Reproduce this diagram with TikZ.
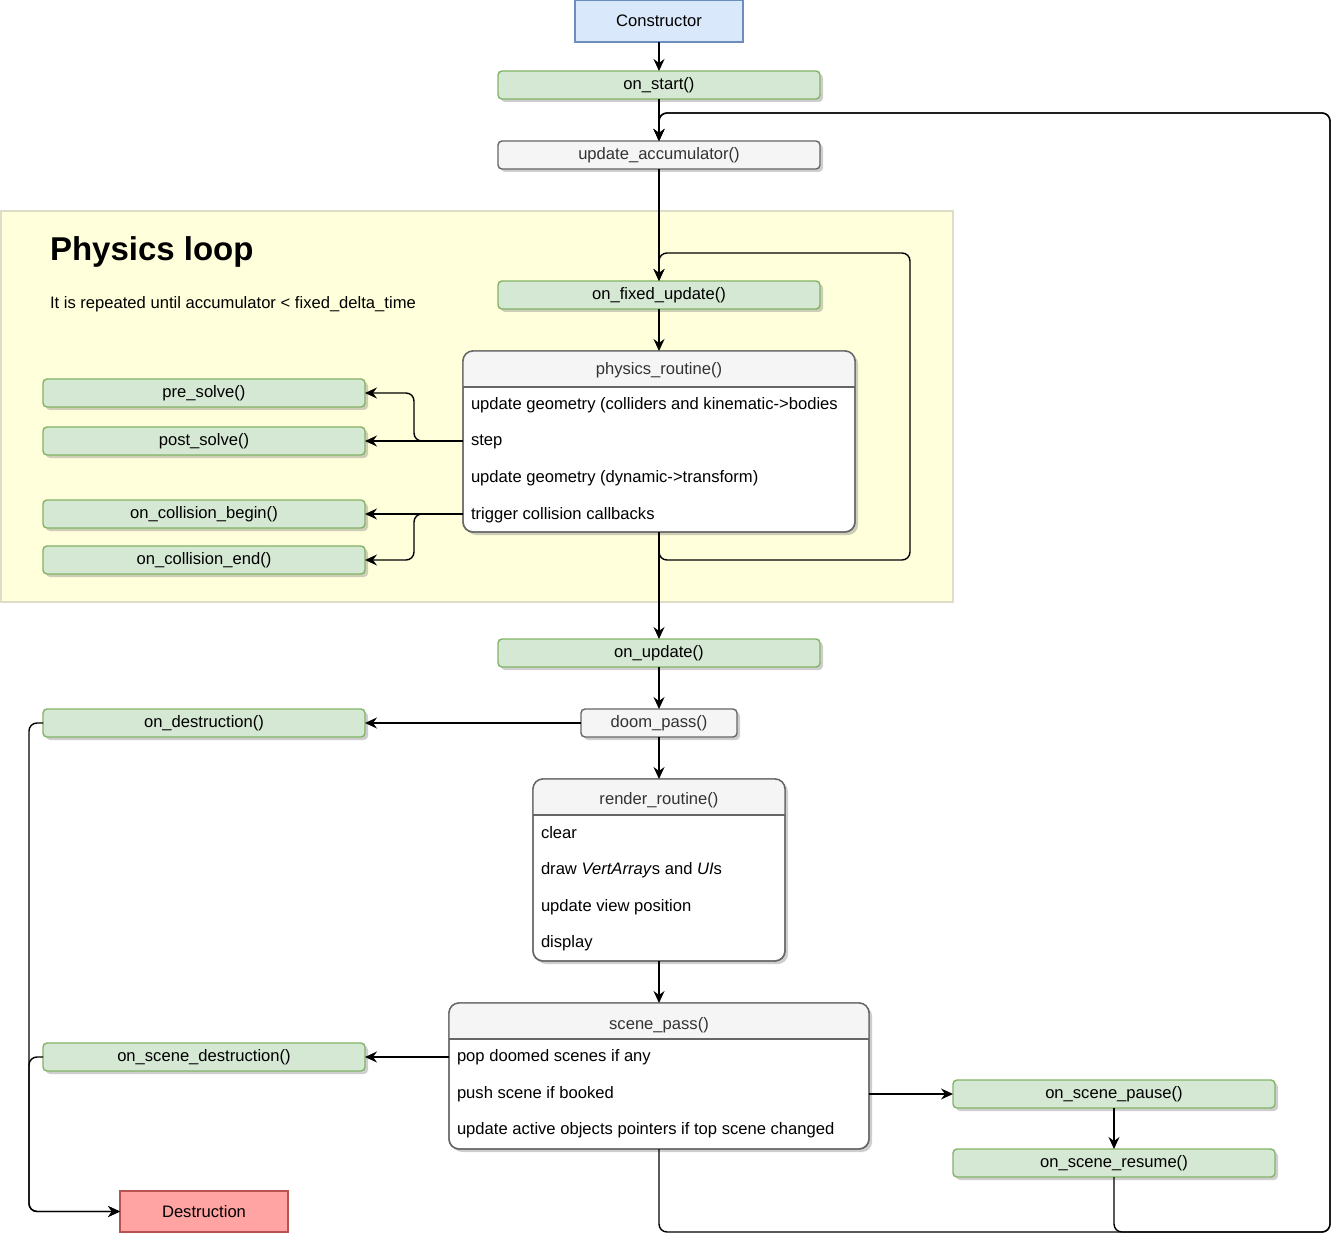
\documentclass[tikz,border=0pt]{standalone}
\usepackage{fontspec}
\setmainfont{Liberation Sans}
\usetikzlibrary{arrows.meta,shadows,calc}
\definecolor{greenfill}{HTML}{D5E8D4}
\definecolor{greenstroke}{HTML}{82B366}
\definecolor{bluefill}{HTML}{DAE8FC}
\definecolor{bluestroke}{HTML}{6C8EBF}
\definecolor{greyfill}{HTML}{F5F5F5}
\definecolor{greystroke}{HTML}{666666}
\definecolor{greytext}{HTML}{333333}
\definecolor{redfill}{HTML}{FFA3A3}
\definecolor{redstroke}{HTML}{B85450}
\definecolor{yellowfill}{HTML}{FFFFDB}
\definecolor{yellowstroke}{HTML}{DEDEC8}
\tikzset{
  base/.style={font=\fontsize{16.6}{20}\selectfont, inner sep=0pt, outer sep=0pt, line width=1.4pt},
  mshadow/.style={drop shadow={shadow xshift=3pt, shadow yshift=-3pt, opacity=0.35, fill=black!55}},
  greenbox/.style={base, draw=greenstroke, fill=greenfill, rounded corners=4pt, minimum width=322pt, minimum height=28pt, mshadow},
  greybox/.style={base, draw=greystroke, fill=greyfill, text=greytext, rounded corners=4pt, minimum height=28pt, mshadow},
  listbox/.style={base, draw=greystroke, fill=white, rounded corners=10pt, mshadow},
  hdrtext/.style={base, text=greytext, anchor=base},
  itemtext/.style={base, anchor=base west},
  conn/.style={line width=1.4pt, rounded corners=8pt, -{Stealth[length=12pt,width=11pt,inset=4pt]}},
}
\begin{document}
\begin{tikzpicture}[x=1pt,y=-1pt]
\useasboundingbox (0,0) rectangle (1344,1246);
% physics loop container
\draw[fill=yellowfill, draw=yellowstroke, line width=1.4pt] (1,211) rectangle (953,602);
\node[base, anchor=base west, font=\fontsize{33}{40}\selectfont\bfseries] (title) at (50,261) {Physics loop};
\node[base, anchor=base west] (subtitle) at (50,309) {It is repeated until accumulator < fixed\_delta\_time};

% top chain
\node[base, draw=bluestroke, fill=bluefill, minimum width=168pt, minimum height=42pt] (cons) at (659,21) {Constructor};
\node[greenbox] (start) at (659,85) {on\_start()};
\node[greybox, minimum width=322pt] (ua) at (659,155) {update\_accumulator()};
\node[greenbox] (ofu) at (659,295) {on\_fixed\_update()};

% physics routine
\node[listbox, minimum width=392pt, minimum height=181pt] (phys) at (659,441.5) {};
\begin{scope}
\clip[rounded corners=10pt] (phys.south west) rectangle (phys.north east);
\fill[greyfill] (phys.north west) rectangle ($(phys.north east)+(0,36)$);
\end{scope}
\draw[greystroke, line width=1.4pt, rounded corners=10pt] (phys.south west) rectangle (phys.north east);
\draw[greystroke, line width=1.4pt] ($(phys.north west)+(0,36)$) -- ($(phys.north east)+(0,36)$);
\node[hdrtext] (physH) at (659,375) {physics\_routine()};
\node[itemtext] (physA) at (471,409.5) {update geometry (colliders and kinematic->bodies};
\node[itemtext] (physB) at (471,446) {step};
\node[itemtext] (physC) at (471,482.5) {update geometry (dynamic->transform)};
\node[itemtext] (physD) at (471,519) {trigger collision callbacks};

% callbacks
\node[greenbox] (pre) at (204,393) {pre\_solve()};
\node[greenbox] (post) at (204,441) {post\_solve()};
\node[greenbox] (ocb) at (204,514) {on\_collision\_begin()};
\node[greenbox] (oce) at (204,560) {on\_collision\_end()};

% lower chain
\node[greenbox] (onupd) at (659,653) {on\_update()};
\node[greybox, minimum width=156pt] (doom) at (659,723) {doom\_pass()};
\node[greenbox] (ondes) at (204,723) {on\_destruction()};

\node[listbox, minimum width=252pt, minimum height=182pt] (render) at (659,870) {};
\begin{scope}
\clip[rounded corners=10pt] (render.south west) rectangle (render.north east);
\fill[greyfill] (render.north west) rectangle ($(render.north east)+(0,36)$);
\end{scope}
\draw[greystroke, line width=1.4pt, rounded corners=10pt] (render.south west) rectangle (render.north east);
\draw[greystroke, line width=1.4pt] ($(render.north west)+(0,36)$) -- ($(render.north east)+(0,36)$);
\node[hdrtext] (renderH) at (659,804) {render\_routine()};
\node[itemtext] (renderA) at (541,838) {clear};
\node[itemtext] (renderB) at (541,874.5) {draw \textit{VertArray}s and \textit{UI}s};
\node[itemtext] (renderC) at (541,911) {update view position};
\node[itemtext] (renderD) at (541,947) {display};

\node[listbox, minimum width=420pt, minimum height=146pt] (scene) at (659,1076) {};
\begin{scope}
\clip[rounded corners=10pt] (scene.south west) rectangle (scene.north east);
\fill[greyfill] (scene.north west) rectangle ($(scene.north east)+(0,36)$);
\end{scope}
\draw[greystroke, line width=1.4pt, rounded corners=10pt] (scene.south west) rectangle (scene.north east);
\draw[greystroke, line width=1.4pt] ($(scene.north west)+(0,36)$) -- ($(scene.north east)+(0,36)$);
\node[hdrtext] (sceneH) at (659,1029) {scene\_pass()};
\node[itemtext] (sceneA) at (457,1061.5) {pop doomed scenes if any};
\node[itemtext] (sceneB) at (457,1098) {push scene if booked};
\node[itemtext] (sceneC) at (457,1134) {update active objects pointers if top scene changed};

\node[greenbox] (osd) at (204,1057) {on\_scene\_destruction()};
\node[greenbox] (pause) at (1114,1094) {on\_scene\_pause()};
\node[greenbox] (resume) at (1114,1163) {on\_scene\_resume()};
\node[base, draw=redstroke, fill=redfill, minimum width=168pt, minimum height=41pt] (destr) at (204,1211.5) {Destruction};

% coordinates
\coordinate (l1) at (910,560);
\coordinate (l2) at (910,253);
\coordinate (j1) at (414,441);
\coordinate (j2) at (414,514);
\coordinate (dl) at (29,1211.5);
\coordinate (br) at (1330,1232);
\coordinate (tr) at (1330,113);
\coordinate (stepL) at (463,441);
\coordinate (trigL) at (463,514);
\coordinate (popL) at (449,1057);

% connectors
\draw[conn] (cons) -- (start);
\draw[conn] (start) -- (ua);
\draw[conn] (ua) -- (ofu);
\draw[conn] (ofu) -- (phys);
\draw[conn] (phys.south) |- (l1) -- (l2) -| (ofu.north);
\draw[conn] (phys.south) -- (onupd.north);
\draw[conn, rounded corners=0pt] (stepL) -- (post.east);
\draw[conn] (stepL) -- (j1) |- (pre.east);
\draw[conn, rounded corners=0pt] (trigL) -- (ocb.east);
\draw[conn] (trigL) -- (j2) |- (oce.east);
\draw[conn] (onupd) -- (doom);
\draw[conn] (doom) -- (ondes);
\draw[conn] (doom) -- (render);
\draw[conn] (render) -- (scene);
\draw[conn] (popL) -- (osd.east);
\draw[conn] (scene.east |- pause.west) -- (pause.west);
\draw[conn] (pause) -- (resume);
\draw[conn] (ondes.west) -| (dl) -- (destr.west);
\draw[conn] (osd.west) -| (dl) -- (destr.west);
\draw[conn] (scene.south) |- (br) -- (tr) -| (ua.north);
\draw[conn] (resume.south) |- (br) -- (tr) -| (ua.north);
\end{tikzpicture}
\end{document}
